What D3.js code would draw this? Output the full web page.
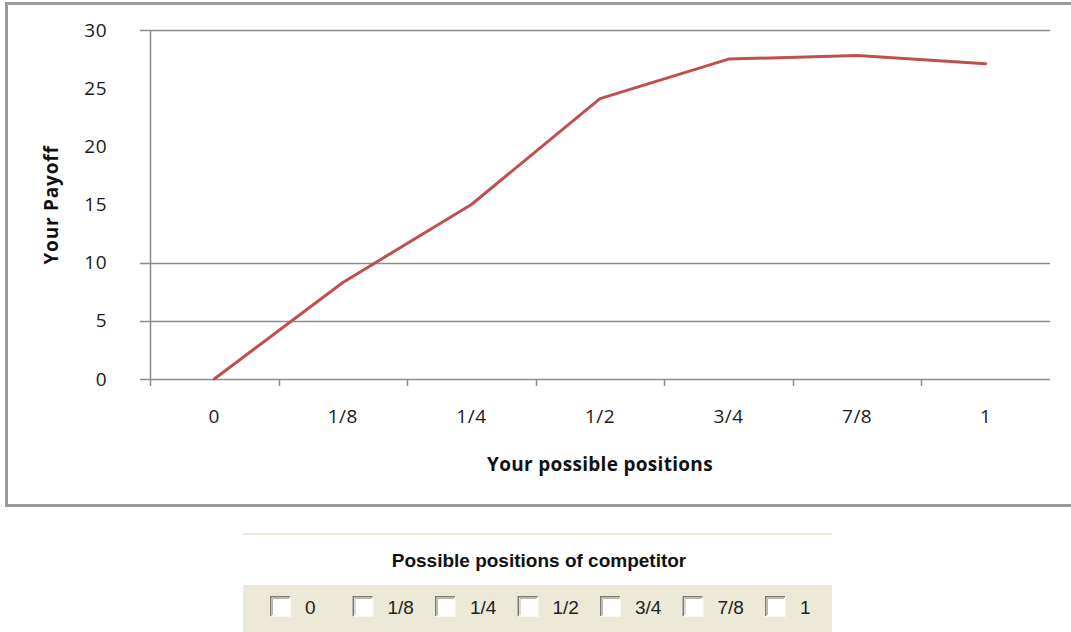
<!DOCTYPE html>
<html>
<head>
<meta charset="utf-8">
<script src="https://cdn.jsdelivr.net/npm/d3@7"></script>
<style>
  body { margin: 0; background: #fff; }
  .tick-lbl { font-family: "Open Sans", sans-serif; font-size: 19px; fill: #1a1a1a; letter-spacing: 0.5px; }
  .ax-title { font-family: "Open Sans", sans-serif; font-size: 19px; font-weight: bold; fill: #111; }
  .cb-lbl { font-family: "Liberation Sans", Arial, sans-serif; font-size: 19px; fill: #222; }
</style>
</head>
<body>
<div id="chart"></div>
<script>
// chart data
var positions = ["0", "1/8", "1/4", "1/2", "3/4", "7/8", "1"];
var payoff = [0, 8.3, 15.0, 24.1, 27.5, 27.8, 27.1];
var yTicks = [0, 5, 10, 15, 20, 25, 30];
var gridVals = [0, 5, 10, 30];   // only these gridlines show in the original
var competitor = ["0", "1/8", "1/4", "1/2", "3/4", "7/8", "1"];

var W = 1071, H = 632;

var svg = d3.select("#chart")
  .append("svg")
    .attr("width", W)
    .attr("height", H);

// outer frame (top, left, bottom)
svg.append("path")
  .attr("d", "M1071,3.5 H6.5 V505.5 H1071")
  .style("fill", "none")
  .style("stroke", "#9a9a9a")
  .style("stroke-width", 3);

// scales
var x = d3.scaleBand()
  .domain(positions)
  .range([150, 1050]);
var y = d3.scaleLinear()
  .domain([0, 30])
  .range([379, 30]);

var plot = svg.append("g");

// gridlines
plot.append("g")
  .selectAll("line")
  .data(gridVals)
  .enter()
  .append("line")
    .attr("x1", 140)
    .attr("x2", 1050)
    .attr("y1", function(d) { return Math.round(y(d)) + 0.5; })
    .attr("y2", function(d) { return Math.round(y(d)) + 0.5; })
    .style("stroke", "#8c8c8c")
    .style("stroke-width", 1.5);

// y axis line
plot.append("line")
  .attr("x1", 150.5).attr("x2", 150.5)
  .attr("y1", y(30)).attr("y2", y(0) + 7)
  .style("stroke", "#8c8c8c")
  .style("stroke-width", 1.5);

// x tick marks at category boundaries
var bounds = positions.map(function(d) { return x(d); });
plot.append("g")
  .selectAll("line")
  .data(bounds.slice(1))
  .enter()
  .append("line")
    .attr("x1", function(d) { return Math.round(d) + 0.5; })
    .attr("x2", function(d) { return Math.round(d) + 0.5; })
    .attr("y1", y(0))
    .attr("y2", y(0) + 7)
    .style("stroke", "#8c8c8c")
    .style("stroke-width", 1.5);

// y tick labels
plot.append("g")
  .selectAll("text")
  .data(yTicks)
  .enter()
  .append("text")
    .attr("class", "tick-lbl")
    .attr("x", 107)
    .attr("y", function(d) { return y(d); })
    .attr("dy", "0.35em")
    .attr("text-anchor", "end")
    .text(function(d) { return d; });

// x tick labels
plot.append("g")
  .selectAll("text")
  .data(positions)
  .enter()
  .append("text")
    .attr("class", "tick-lbl")
    .attr("x", function(d) { return x(d) + x.bandwidth() / 2; })
    .attr("y", 423)
    .attr("text-anchor", "middle")
    .text(function(d) { return d; });

// axis titles
svg.append("text")
  .attr("class", "ax-title")
  .attr("x", 600)
  .attr("y", 471)
  .attr("text-anchor", "middle")
  .style("letter-spacing", "0.3px")
  .text("Your possible positions");

svg.append("text")
  .attr("class", "ax-title")
  .attr("transform", "translate(58,205) rotate(-90)")
  .attr("text-anchor", "middle")
  .style("letter-spacing", "0.8px")
  .text("Your  Payoff");

// payoff line
var line = d3.line()
  .x(function(d, i) { return x(positions[i]) + x.bandwidth() / 2; })
  .y(function(d) { return y(d); });

plot.append("path")
  .datum(payoff)
  .attr("d", line)
  .style("fill", "none")
  .style("stroke", "#c0504d")
  .style("stroke-width", 3)
  .style("stroke-linejoin", "round")
  .style("stroke-linecap", "round");

// ---------------------
// competitor selector panel

svg.append("line")
  .attr("x1", 243).attr("x2", 832)
  .attr("y1", 534).attr("y2", 534)
  .style("stroke", "#ece9d8")
  .style("stroke-width", 2);

svg.append("text")
  .attr("x", 539)
  .attr("y", 567)
  .attr("text-anchor", "middle")
  .style("font-family", "'Liberation Sans', Arial, sans-serif")
  .style("font-size", "19px")
  .style("font-weight", "bold")
  .style("fill", "#111")
  .text("Possible positions of competitor");

svg.append("rect")
  .attr("x", 243)
  .attr("y", 585)
  .attr("width", 589)
  .attr("height", 47)
  .style("fill", "#ece9d8");

var cx = d3.scalePoint()
  .domain(competitor)
  .range([270, 765]);

var cb = svg.append("g")
  .selectAll("g")
  .data(competitor)
  .enter()
  .append("g")
    .attr("transform", function(d) { return "translate(" + cx(d) + ",596)"; });

cb.append("rect")
  .attr("width", 21)
  .attr("height", 21)
  .style("fill", "#fff");

// sunken border: dark top/left, light bottom/right
cb.append("path")
  .attr("d", "M0.75,21 V0.75 H21")
  .style("fill", "none")
  .style("stroke", "#7a7a72")
  .style("stroke-width", 1.5);
cb.append("path")
  .attr("d", "M2.5,19 V2.5 H19")
  .style("fill", "none")
  .style("stroke", "#b8b6a8")
  .style("stroke-width", 1);
cb.append("path")
  .attr("d", "M0,20.5 H20.5 V0")
  .style("fill", "none")
  .style("stroke", "#f6f5ef")
  .style("stroke-width", 1);

cb.append("text")
  .attr("class", "cb-lbl")
  .attr("x", 35)
  .attr("y", 18)
  .text(function(d) { return d; });
</script>
</body>
</html>
